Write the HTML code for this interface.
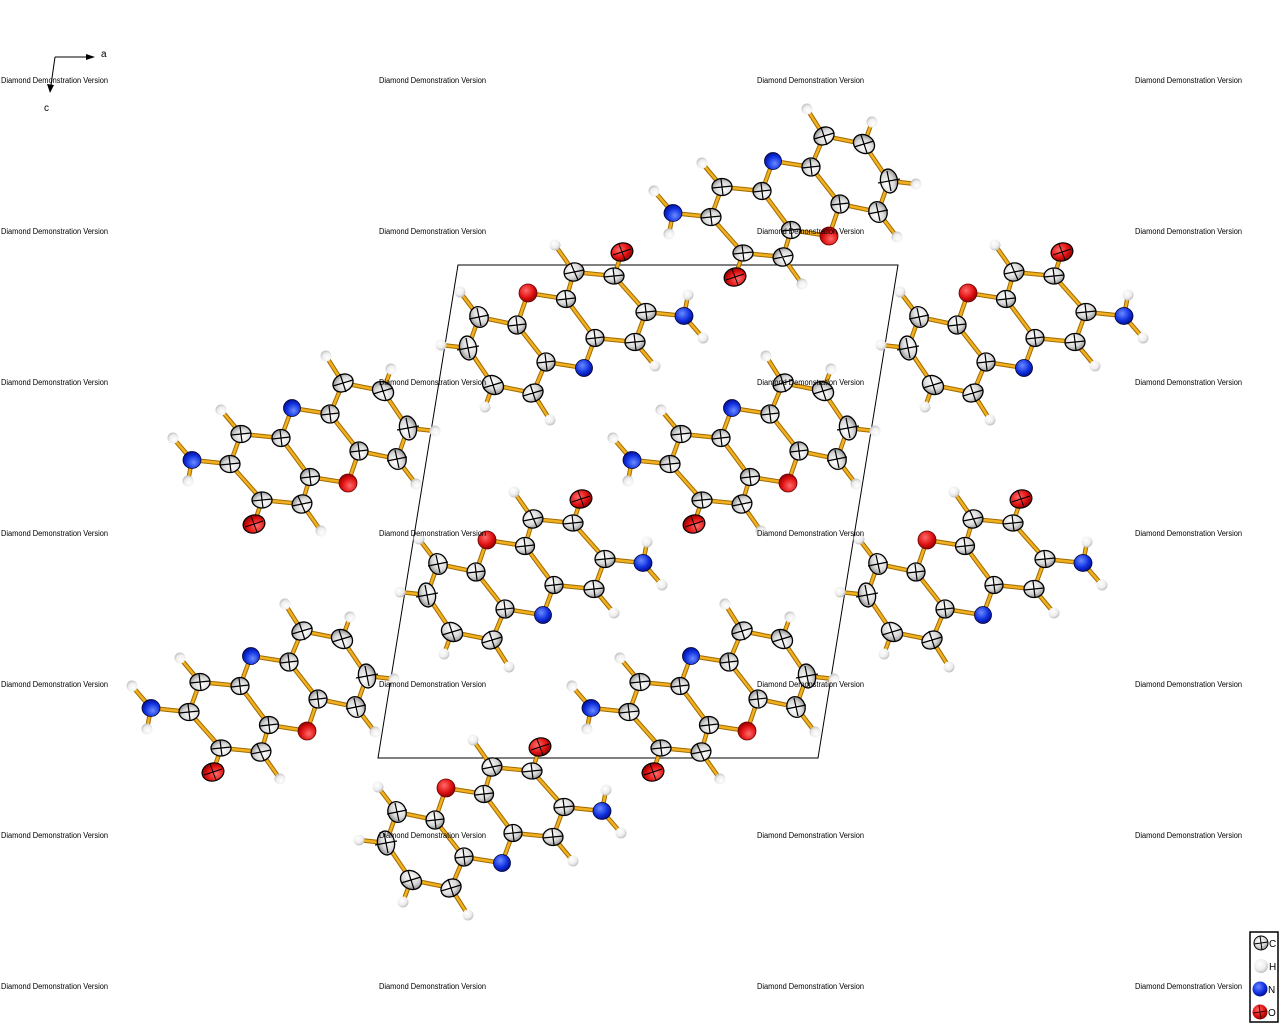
<!DOCTYPE html>
<html><head><meta charset="utf-8"><style>
html,body{margin:0;padding:0;background:#fff;}
svg{display:block;}
</style></head><body>
<svg width="1280" height="1024" viewBox="0 0 1280 1024" xmlns="http://www.w3.org/2000/svg">
<defs>
<radialGradient id="gC" cx="0.4" cy="0.35" r="0.7"><stop offset="0" stop-color="#ffffff"/><stop offset="0.6" stop-color="#d8d8d8"/><stop offset="1" stop-color="#8a8a8a"/></radialGradient>
<radialGradient id="gH" cx="0.4" cy="0.35" r="0.7"><stop offset="0" stop-color="#ffffff"/><stop offset="0.6" stop-color="#eeeeee"/><stop offset="1" stop-color="#b8b8b8"/></radialGradient>
<radialGradient id="gO" cx="0.4" cy="0.35" r="0.7"><stop offset="0" stop-color="#ff6a6a"/><stop offset="0.6" stop-color="#e01010"/><stop offset="1" stop-color="#800000"/></radialGradient>
<radialGradient id="gN" cx="0.4" cy="0.35" r="0.7"><stop offset="0" stop-color="#6a8aff"/><stop offset="0.6" stop-color="#1030e0"/><stop offset="1" stop-color="#000a80"/></radialGradient>
<g id="molA">
 <g stroke="#a06a00" stroke-width="4.5" stroke-linecap="round" fill="none">
  <path d="M622,252L614,276L574,272L566,299L528,293L517,325L479,317L468,348L493,385L533,393L546,362L517,325 M546,362L584,368L595,338L566,299 M595,338L635,342L646,312L614,276 M646,312L684,316 M574,272L555,245 M479,317L460,292 M468,348L441,345 M493,385L485,407 M533,393L550,420 M635,342L655,366 M684,316L688,295 M684,316L703,338"/>
 </g>
 <g stroke="#f0b020" stroke-width="2.5" stroke-linecap="round" fill="none">
  <path d="M622,252L614,276L574,272L566,299L528,293L517,325L479,317L468,348L493,385L533,393L546,362L517,325 M546,362L584,368L595,338L566,299 M595,338L635,342L646,312L614,276 M646,312L684,316 M574,272L555,245 M479,317L460,292 M468,348L441,345 M493,385L485,407 M533,393L550,420 M635,342L655,366 M684,316L688,295 M684,316L703,338"/>
 </g>
 <g fill="url(#gH)">
  <circle cx="555" cy="245" r="5.5"/><circle cx="460" cy="292" r="5.5"/><circle cx="441" cy="345" r="5.5"/><circle cx="485" cy="407" r="5.5"/><circle cx="550" cy="420" r="5.5"/><circle cx="655" cy="366" r="5.5"/><circle cx="688" cy="295" r="5.5"/><circle cx="703" cy="338" r="5.5"/>
 </g>
 <g fill="url(#gC)" stroke="#000" stroke-width="1.3">
  <ellipse cx="614" cy="276" rx="10" ry="8"/>
  <ellipse cx="574" cy="272" rx="10" ry="9" transform="rotate(-20 574 272)"/>
  <ellipse cx="566" cy="299" rx="9.5" ry="8.5"/>
  <ellipse cx="517" cy="325" rx="9" ry="9"/>
  <ellipse cx="479" cy="317" rx="10.5" ry="9" transform="rotate(70 479 317)"/>
  <ellipse cx="468" cy="348" rx="12" ry="8.5" transform="rotate(80 468 348)"/>
  <ellipse cx="493" cy="385" rx="11" ry="9" transform="rotate(30 493 385)"/>
  <ellipse cx="533" cy="393" rx="10.5" ry="8.5" transform="rotate(-30 533 393)"/>
  <ellipse cx="546" cy="362" rx="9" ry="9"/>
  <ellipse cx="595" cy="338" rx="9" ry="8.5"/>
  <ellipse cx="635" cy="342" rx="10" ry="8.5"/>
  <ellipse cx="646" cy="312" rx="10" ry="8.5"/>
 </g>
 <g stroke="#000" stroke-width="1.2" fill="none">
  <path d="M604,277L624,275M613,268L615,284 M564,274L584,270M571,264L578,280 M557,300L575,298M565,291L567,307 M508,326L526,324M516,317L518,333 M469,319L489,315M477,308L481,326 M457,350L479,346M466,338L470,358 M483,388L503,382M490,376L496,394 M523,396L543,390M530,384L536,402 M537,363L555,361M545,354L547,370 M586,339L604,337M594,330L596,346 M625,343L645,341M634,334L636,350 M636,313L656,311M645,304L647,320"/>
 </g>
 <ellipse cx="622" cy="252" rx="11" ry="9" fill="url(#gO)" stroke="#000" stroke-width="1.2" transform="rotate(-15 622 252)"/>
 <path d="M613,255L631,249M619,244L625,260" stroke="#000" stroke-width="1" fill="none"/>
 <ellipse cx="528" cy="293" rx="9" ry="9" fill="url(#gO)" stroke="#600" stroke-width="0.8"/>
 <ellipse cx="584" cy="368" rx="8.5" ry="8.5" fill="url(#gN)" stroke="#003" stroke-width="0.8"/>
 <ellipse cx="684" cy="316" rx="9" ry="8.5" fill="url(#gN)" stroke="#003" stroke-width="0.8"/>
</g>
<g id="molB"><use href="#molA" transform="translate(1357,529) scale(-1,-1)"/></g>
</defs>

<polygon points="458,265 898,265 818,758 378,758" fill="none" stroke="#000" stroke-width="1"/>

<use href="#molA"/>
<use href="#molA" transform="translate(440,0)"/>
<use href="#molA" transform="translate(-41,247)"/>
<use href="#molA" transform="translate(399,247)"/>
<use href="#molA" transform="translate(-82,495)"/>
<use href="#molB"/>
<use href="#molB" transform="translate(-41,247)"/>
<use href="#molB" transform="translate(-481,247)"/>
<use href="#molB" transform="translate(-82,495)"/>
<use href="#molB" transform="translate(-522,495)"/>

<g stroke="#000" stroke-width="1" fill="none">
 <path d="M55,57L88,57M55,57L51,85"/>
</g>
<polygon points="86,54 95,57 86,60" fill="#000"/>
<polygon points="47,84 50,93 54,85" fill="#000"/>
<text x="101" y="57" font-family="Liberation Sans, sans-serif" font-size="10">a</text>
<text x="44" y="111" font-family="Liberation Sans, sans-serif" font-size="10">c</text>

<rect x="1250" y="932" width="28" height="90" fill="#fff" stroke="#000" stroke-width="1.5"/>
<ellipse cx="1261" cy="943" rx="7" ry="7" fill="url(#gC)" stroke="#000"/>
<path d="M1254,944L1268,942M1260,936L1262,950" stroke="#000" stroke-width="1"/>
<circle cx="1261" cy="966" r="7" fill="url(#gH)"/>
<circle cx="1260" cy="989" r="7.5" fill="url(#gN)"/>
<circle cx="1260" cy="1012" r="7.5" fill="url(#gO)"/>
<path d="M1253,1013L1267,1011M1259,1005L1261,1019" stroke="#400" stroke-width="1"/>
<g font-family="Liberation Sans, sans-serif" font-size="10" fill="#000">
 <text x="1269" y="947">C</text><text x="1269" y="970">H</text><text x="1268" y="993">N</text><text x="1268" y="1016">O</text>
</g>

<g font-family="Liberation Sans, sans-serif" font-size="8" fill="#000">
<text x="1" y="83" textLength="107" lengthAdjust="spacingAndGlyphs">Diamond Demonstration Version</text>
<text x="379" y="83" textLength="107" lengthAdjust="spacingAndGlyphs">Diamond Demonstration Version</text>
<text x="757" y="83" textLength="107" lengthAdjust="spacingAndGlyphs">Diamond Demonstration Version</text>
<text x="1135" y="83" textLength="107" lengthAdjust="spacingAndGlyphs">Diamond Demonstration Version</text>
<text x="1" y="234" textLength="107" lengthAdjust="spacingAndGlyphs">Diamond Demonstration Version</text>
<text x="379" y="234" textLength="107" lengthAdjust="spacingAndGlyphs">Diamond Demonstration Version</text>
<text x="757" y="234" textLength="107" lengthAdjust="spacingAndGlyphs">Diamond Demonstration Version</text>
<text x="1135" y="234" textLength="107" lengthAdjust="spacingAndGlyphs">Diamond Demonstration Version</text>
<text x="1" y="385" textLength="107" lengthAdjust="spacingAndGlyphs">Diamond Demonstration Version</text>
<text x="379" y="385" textLength="107" lengthAdjust="spacingAndGlyphs">Diamond Demonstration Version</text>
<text x="757" y="385" textLength="107" lengthAdjust="spacingAndGlyphs">Diamond Demonstration Version</text>
<text x="1135" y="385" textLength="107" lengthAdjust="spacingAndGlyphs">Diamond Demonstration Version</text>
<text x="1" y="536" textLength="107" lengthAdjust="spacingAndGlyphs">Diamond Demonstration Version</text>
<text x="379" y="536" textLength="107" lengthAdjust="spacingAndGlyphs">Diamond Demonstration Version</text>
<text x="757" y="536" textLength="107" lengthAdjust="spacingAndGlyphs">Diamond Demonstration Version</text>
<text x="1135" y="536" textLength="107" lengthAdjust="spacingAndGlyphs">Diamond Demonstration Version</text>
<text x="1" y="687" textLength="107" lengthAdjust="spacingAndGlyphs">Diamond Demonstration Version</text>
<text x="379" y="687" textLength="107" lengthAdjust="spacingAndGlyphs">Diamond Demonstration Version</text>
<text x="757" y="687" textLength="107" lengthAdjust="spacingAndGlyphs">Diamond Demonstration Version</text>
<text x="1135" y="687" textLength="107" lengthAdjust="spacingAndGlyphs">Diamond Demonstration Version</text>
<text x="1" y="838" textLength="107" lengthAdjust="spacingAndGlyphs">Diamond Demonstration Version</text>
<text x="379" y="838" textLength="107" lengthAdjust="spacingAndGlyphs">Diamond Demonstration Version</text>
<text x="757" y="838" textLength="107" lengthAdjust="spacingAndGlyphs">Diamond Demonstration Version</text>
<text x="1135" y="838" textLength="107" lengthAdjust="spacingAndGlyphs">Diamond Demonstration Version</text>
<text x="1" y="989" textLength="107" lengthAdjust="spacingAndGlyphs">Diamond Demonstration Version</text>
<text x="379" y="989" textLength="107" lengthAdjust="spacingAndGlyphs">Diamond Demonstration Version</text>
<text x="757" y="989" textLength="107" lengthAdjust="spacingAndGlyphs">Diamond Demonstration Version</text>
<text x="1135" y="989" textLength="107" lengthAdjust="spacingAndGlyphs">Diamond Demonstration Version</text>
</g>
</svg>
</body></html>
